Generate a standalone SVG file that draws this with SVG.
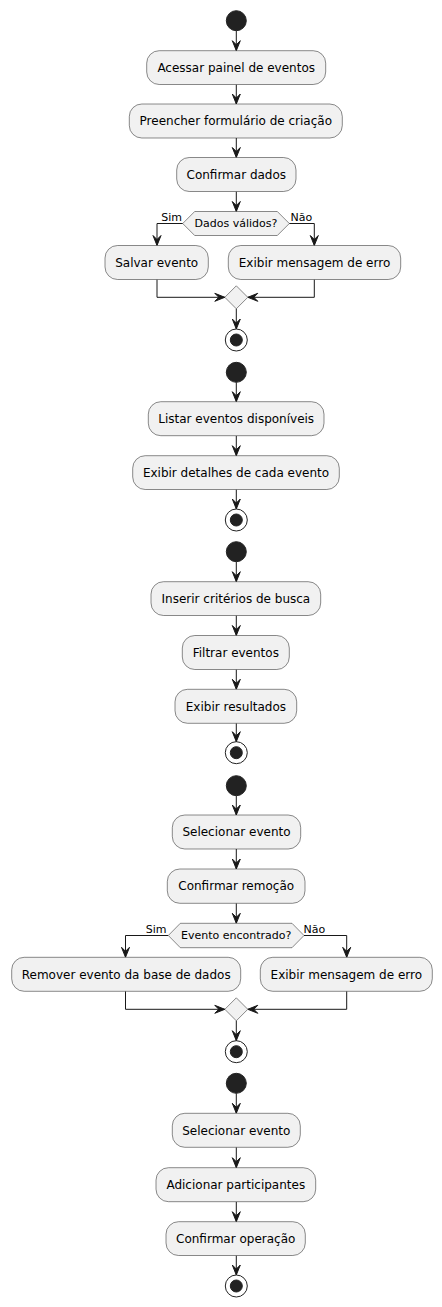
<svg xmlns="http://www.w3.org/2000/svg" width="442" height="1307" viewBox="0 0 442 1307">
<style>
.box{fill:#F1F1F1;stroke:#181818;stroke-width:0.5}
.t{font-family:"DejaVu Sans",sans-serif;font-size:12px;fill:#000;text-anchor:middle}
.s{font-family:"DejaVu Sans",sans-serif;font-size:11px;fill:#000}
.c{stroke:#181818;stroke-width:1;fill:none}
.st{fill:#222222;stroke:#222222}
.en{fill:none;stroke:#222222;stroke-width:1}
</style>
<defs>
<marker id="a" markerUnits="userSpaceOnUse" markerWidth="12" markerHeight="10" refX="10" refY="4" orient="auto" overflow="visible">
<path d="M0,0 L10,4 L0,8 L4,4 Z" fill="#181818" stroke="#181818" stroke-width="1"/>
</marker>
</defs>
<rect width="442" height="1307" fill="#FFFFFF"/>
<g id="connectors" class="c" marker-end="url(#a)">
<!-- D1 -->
<line x1="236.3" y1="30.7" x2="236.3" y2="50.7"/>
<line x1="236.3" y1="84.5" x2="236.3" y2="104"/>
<line x1="236.3" y1="138" x2="236.3" y2="157.5"/>
<line x1="236.3" y1="191.5" x2="236.3" y2="211.5"/>
<polyline points="182.7,223.5 157,223.5 157,245.5"/>
<polyline points="289.3,223.5 314.3,223.5 314.3,245.5"/>
<polyline points="157,279.5 157,297.3 224.8,297.3"/>
<polyline points="314.3,279.5 314.3,297.3 247.8,297.3"/>
<line x1="236.3" y1="308.8" x2="236.3" y2="329"/>
<!-- D2 -->
<line x1="236.3" y1="382.3" x2="236.3" y2="401.7"/>
<line x1="236.3" y1="435.7" x2="236.3" y2="455.7"/>
<line x1="236.3" y1="489.5" x2="236.3" y2="509"/>
<!-- D3 -->
<line x1="236.3" y1="561.7" x2="236.3" y2="581.7"/>
<line x1="236.3" y1="615.5" x2="236.3" y2="635.5"/>
<line x1="236.3" y1="669.5" x2="236.3" y2="689.3"/>
<line x1="236.3" y1="723.3" x2="236.3" y2="741.7"/>
<!-- D4 -->
<line x1="236.3" y1="795.7" x2="236.3" y2="815"/>
<line x1="236.3" y1="849" x2="236.3" y2="869"/>
<line x1="236.3" y1="903.3" x2="236.3" y2="923.3"/>
<polyline points="168.3,935.5 125.5,935.5 125.5,957.3"/>
<polyline points="304,935.5 346.7,935.5 346.7,957.3"/>
<polyline points="125.5,991.3 125.5,1009.3 224.8,1009.3"/>
<polyline points="346.7,991.3 346.7,1009.3 247.8,1009.3"/>
<line x1="236.3" y1="1020.8" x2="236.3" y2="1040.7"/>
<!-- D5 -->
<line x1="236.3" y1="1093.3" x2="236.3" y2="1113.3"/>
<line x1="236.3" y1="1147.3" x2="236.3" y2="1167.7"/>
<line x1="236.3" y1="1201.7" x2="236.3" y2="1221.7"/>
<line x1="236.3" y1="1255.5" x2="236.3" y2="1275"/>
</g>
<g id="branch-labels">
<text class="s" x="182" y="220.5" text-anchor="end">Sim</text>
<text class="s" x="290.5" y="220.5">Não</text>
<text class="s" x="166.5" y="932.5" text-anchor="end">Sim</text>
<text class="s" x="303.5" y="932.5">Não</text>
</g>
<!-- Diagram 1 -->
<g id="start1"><circle class="st" cx="236.3" cy="20.7" r="10"/></g>
<g id="n1"><rect class="box" x="146.7" y="50.7" width="179" height="33.8" rx="12.5"/><text class="t" x="236.2" y="71.8">Acessar painel de eventos</text></g>
<g id="n2"><rect class="box" x="129.3" y="104" width="213" height="34" rx="12.5"/><text class="t" x="235.8" y="125.2">Preencher formulário de criação</text></g>
<g id="n3"><rect class="box" x="176.7" y="157.5" width="119.3" height="34" rx="12.5"/><text class="t" x="236.3" y="178.7">Confirmar dados</text></g>
<g id="d1"><polygon class="box" points="182.7,223.5 194.7,211.5 277.3,211.5 289.3,223.5 277.3,235.5 194.7,235.5"/><text class="t" style="font-size:11px" x="236" y="227.3">Dados válidos?</text></g>
<g id="n4"><rect class="box" x="105" y="245.5" width="103.3" height="34" rx="12.5"/><text class="t" x="156.7" y="266.7">Salvar evento</text></g>
<g id="n5"><rect class="box" x="228.3" y="245.5" width="172.4" height="34" rx="12.5"/><text class="t" x="314.5" y="266.7">Exibir mensagem de erro</text></g>
<g id="m1"><polygon class="box" points="236.3,285.8 247.8,297.3 236.3,308.8 224.8,297.3"/></g>
<g id="end1"><circle class="en" cx="236.3" cy="340" r="11"/><circle class="st" cx="236.3" cy="340" r="6"/></g>
<!-- Diagram 2 -->
<g id="start2"><circle class="st" cx="236.3" cy="372.3" r="10"/></g>
<g id="n6"><rect class="box" x="148.3" y="401.7" width="175.7" height="34" rx="12.5"/><text class="t" x="236.2" y="422.9">Listar eventos disponíveis</text></g>
<g id="n7"><rect class="box" x="132.7" y="455.7" width="206.6" height="33.8" rx="12.5"/><text class="t" x="236" y="476.8">Exibir detalhes de cada evento</text></g>
<g id="end2"><circle class="en" cx="236.3" cy="520" r="11"/><circle class="st" cx="236.3" cy="520" r="6"/></g>
<!-- Diagram 3 -->
<g id="start3"><circle class="st" cx="236.3" cy="551.7" r="10"/></g>
<g id="n8"><rect class="box" x="151" y="581.7" width="169.7" height="33.8" rx="12.5"/><text class="t" x="235.9" y="602.8">Inserir critérios de busca</text></g>
<g id="n9"><rect class="box" x="182.3" y="635.5" width="107" height="34" rx="12.5"/><text class="t" x="235.8" y="656.7">Filtrar eventos</text></g>
<g id="n10"><rect class="box" x="175" y="689.3" width="121.7" height="34" rx="12.5"/><text class="t" x="235.9" y="710.5">Exibir resultados</text></g>
<g id="end3"><circle class="en" cx="236.3" cy="752.7" r="11"/><circle class="st" cx="236.3" cy="752.7" r="6"/></g>
<!-- Diagram 4 -->
<g id="start4"><circle class="st" cx="236.3" cy="785.7" r="10"/></g>
<g id="n11"><rect class="box" x="172.3" y="815" width="128.4" height="34" rx="12.5"/><text class="t" x="236.5" y="836.2">Selecionar evento</text></g>
<g id="n12"><rect class="box" x="167.3" y="869" width="137.7" height="34.3" rx="12.5"/><text class="t" x="236.2" y="890.3">Confirmar remoção</text></g>
<g id="d2"><polygon class="box" points="168.3,935.5 180.3,923.3 292,923.3 304,935.5 292,947.7 180.3,947.7"/><text class="t" style="font-size:11px" x="236.2" y="939.3">Evento encontrado?</text></g>
<g id="n13"><rect class="box" x="11.7" y="957.3" width="229" height="34" rx="12.5"/><text class="t" x="126.2" y="978.5">Remover evento da base de dados</text></g>
<g id="n14"><rect class="box" x="260.3" y="957.3" width="172" height="34" rx="12.5"/><text class="t" x="346.3" y="978.5">Exibir mensagem de erro</text></g>
<g id="m2"><polygon class="box" points="236.3,997.8 247.8,1009.3 236.3,1020.8 224.8,1009.3"/></g>
<g id="end4"><circle class="en" cx="236.3" cy="1051.7" r="11"/><circle class="st" cx="236.3" cy="1051.7" r="6"/></g>
<!-- Diagram 5 -->
<g id="start5"><circle class="st" cx="236.3" cy="1083.3" r="10"/></g>
<g id="n15"><rect class="box" x="172.3" y="1113.3" width="128" height="34" rx="12.5"/><text class="t" x="236.3" y="1134.5">Selecionar evento</text></g>
<g id="n16"><rect class="box" x="156" y="1167.7" width="159.7" height="34" rx="12.5"/><text class="t" x="235.8" y="1188.9">Adicionar participantes</text></g>
<g id="n17"><rect class="box" x="166" y="1221.7" width="139.3" height="33.8" rx="12.5"/><text class="t" x="235.7" y="1242.8">Confirmar operação</text></g>
<g id="end5"><circle class="en" cx="236.3" cy="1286" r="11"/><circle class="st" cx="236.3" cy="1286" r="6"/></g>
</svg>
